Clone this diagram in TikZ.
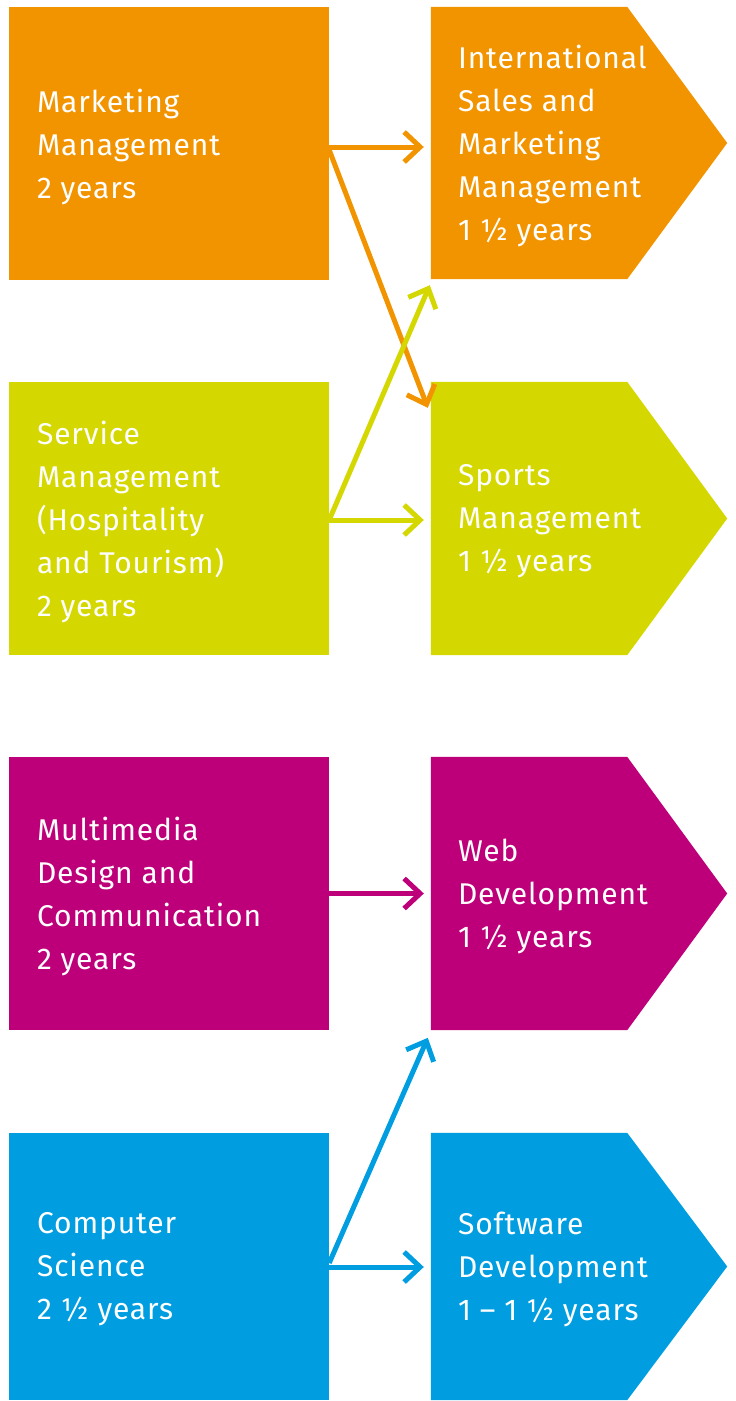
\documentclass[tikz,border=0pt]{standalone}
\usepackage{fontspec}
\setmainfont{Fira Sans}[LetterSpace=3]
\usetikzlibrary{arrows.meta,calc}
\definecolor{cOr}{RGB}{242,148,0}
\definecolor{cGr}{RGB}{212,215,0}
\definecolor{cMa}{RGB}{189,0,122}
\definecolor{cBl}{RGB}{0,158,224}
\begin{document}
\begin{tikzpicture}[x=1pt,y=-1pt,
  lbox/.style={rectangle, minimum width=320pt, minimum height=273pt, inner sep=0pt},
  rbox/.style={rectangle, minimum width=196pt, minimum height=273pt, inner sep=0pt},
  btext/.style={anchor=west, align=left, inner sep=0pt, text=white, font=\fontsize{30}{43}\selectfont},
  conn/.style={line width=5pt, -{Straight Barb[length=16pt,width=30pt]}}]
\useasboundingbox (0,0) rectangle (736,1401);
% left boxes
\node[lbox, fill=cOr] (mm) at (169,143.5) {};
\node[lbox, fill=cGr] (smh) at (169,518.5) {};
\node[lbox, fill=cMa] (mdc) at (169,893.5) {};
\node[lbox, fill=cBl, minimum height=267pt] (cs) at (169,1266.5) {};
% right boxes
\node[rbox, minimum height=272pt] (ism) at (529,143) {};
\node[rbox] (spm) at (529,518.5) {};
\node[rbox] (web) at (529,893.5) {};
\node[rbox, minimum height=267pt] (sw) at (529,1266.5) {};
\foreach \n/\c in {ism/cOr, spm/cGr, web/cMa, sw/cBl}{
  \fill[\c] (\n.north west) -- (\n.north east) -- ($(\n.east)+(100,0)$) -- (\n.south east) -- (\n.south west) -- cycle;
}
% texts
\node[btext] (tmm) at ($(mm.west)+(28,3)$) {Marketing\\Management\\2 years};
\node[btext] (tsmh) at ($(smh.west)+(28,3)$) {Service\\Management\\(Hospitality\\and Tourism)\\2 years};
\node[btext] (tmdc) at ($(mdc.west)+(28,3)$) {Multimedia\\Design and\\Communication\\2 years};
\node[btext] (tcs) at ($(cs.west)+(28,3)$) {Computer\\Science\\2 ½ years};
\node[btext] (tism) at ($(ism.west)+(27,3)$) {International\\Sales and\\Marketing\\Management\\1 ½ years};
\node[btext] (tspm) at ($(spm.west)+(27,3)$) {Sports\\Management\\1 ½ years};
\node[btext] (tweb) at ($(web.west)+(27,3)$) {Web\\Development\\1 ½ years};
\node[btext] (tsw) at ($(sw.west)+(27,3)$) {Software\\Development\\1 – 1 ½ years};
% connectors
\draw[conn, cOr] ($(mm.east)+(0,3.5)$) -- ($(ism.west)+(-7,4)$);
\draw[conn, cOr] ($(mm.east)+(0,6.5)$) -- ($(spm.north west)+(-3,26)$);
\draw[conn, cGr] ($(smh.east)+(0,1.5)$) -- ($(ism.south west)+(-1,6)$);
\draw[conn, cGr] ($(smh.east)+(0,1.5)$) -- ($(spm.west)+(-7,1.5)$);
\draw[conn, cMa] ($(mdc.east)+(0,0)$) -- ($(web.west)+(-7,0)$);
\draw[conn, cBl] ($(cs.east)+(0,-3.5)$) -- ($(sw.north west)+(-3,-95)$);
\draw[conn, cBl] ($(cs.east)+(0,0.5)$) -- ($(sw.west)+(-7,0.5)$);
\end{tikzpicture}
\end{document}
